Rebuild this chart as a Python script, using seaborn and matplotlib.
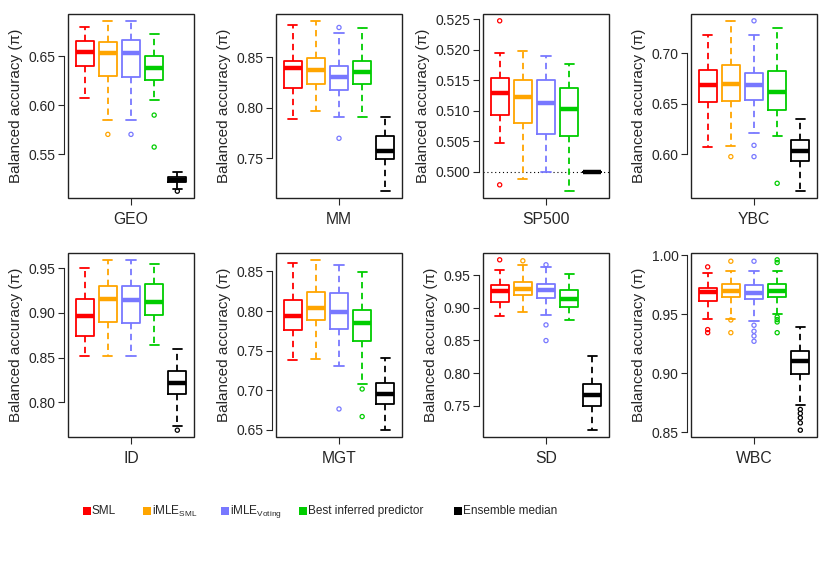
import numpy as np
import pandas as pd
import matplotlib
matplotlib.use("Agg")
import matplotlib.pyplot as plt
from matplotlib.patches import Rectangle
import seaborn as sns

methods = ["SML", "iMLE_SML", "iMLE_Voting", "Best", "Ensemble"]
legend_labels = ["SML", r"iMLE$_{\mathrm{SML}}$", r"iMLE$_{\mathrm{Voting}}$",
                 "Best inferred predictor", "Ensemble median"]
colors = ["#FF0000", "#FFA500", "#7878FF", "#00CD00", "#000000"]
datasets = ["GEO", "MM", "SP500", "YBC", "ID", "MGT", "SD", "WBC"]

# per method: whisker low, Q1, median, Q3, whisker high
geo_box = [[0.6071, 0.6399, 0.6537, 0.6655, 0.6797],
           [0.5848, 0.6294, 0.6527, 0.6645, 0.6858],
           [0.5848, 0.6291, 0.6534, 0.6659, 0.6858],
           [0.6054, 0.6257, 0.6375, 0.6500, 0.6726],
           [0.5152, 0.5220, 0.5243, 0.5267, 0.5318]]
geo_out = [[], [0.5703], [0.5703], [0.5899, 0.5574], [0.5125]]
geo_ticks = [0.55, 0.60, 0.65]

mm_box = [[0.7885, 0.8194, 0.8388, 0.8464, 0.8822],
          [0.7970, 0.8230, 0.8375, 0.8493, 0.8859],
          [0.7911, 0.8171, 0.8306, 0.8408, 0.8740],
          [0.7911, 0.8230, 0.8352, 0.8457, 0.8786],
          [0.7174, 0.7490, 0.7576, 0.7720, 0.7905]]
mm_out = [[], [], [0.8793, 0.7697], [], []]
mm_ticks = [0.75, 0.80, 0.85]

sp_box = [[0.50462, 0.50935, 0.51293, 0.51533, 0.51951],
          [0.49886, 0.50804, 0.51217, 0.51500, 0.51973],
          [0.50000, 0.50614, 0.51130, 0.51500, 0.51897],
          [0.49679, 0.50576, 0.51022, 0.51375, 0.51766],
          [0.50000, 0.50000, 0.50000, 0.50000, 0.50000]]
sp_out = [[0.52473, 0.49783], [], [], [], []]
sp_ticks = [0.500, 0.505, 0.510, 0.515, 0.520, 0.525]

ybc_box = [[0.6066, 0.6513, 0.6688, 0.6832, 0.7174],
           [0.6079, 0.6523, 0.6697, 0.6885, 0.7313],
           [0.6204, 0.6539, 0.6688, 0.6799, 0.7181],
           [0.6178, 0.6434, 0.6615, 0.6826, 0.7247],
           [0.5632, 0.5928, 0.6030, 0.6135, 0.6342]]
ybc_out = [[], [0.5974], [0.7319, 0.6086, 0.5974], [0.5710], []]
ybc_ticks = [0.60, 0.65, 0.70]

id_box = [[0.8515, 0.8746, 0.8959, 0.9153, 0.9507],
          [0.8515, 0.8892, 0.9153, 0.9295, 0.9593],
          [0.8515, 0.8884, 0.9138, 0.9295, 0.9593],
          [0.8638, 0.8974, 0.9123, 0.9325, 0.9541],
          [0.7735, 0.8097, 0.8216, 0.8347, 0.8593]]
id_out = [[], [], [], [], [0.7687]]
id_ticks = [0.80, 0.85, 0.90, 0.95]

mgt_box = [[0.7380, 0.7758, 0.7934, 0.8135, 0.8605],
           [0.7397, 0.7884, 0.8035, 0.8244, 0.8647],
           [0.7305, 0.7779, 0.7984, 0.8223, 0.8584],
           [0.7079, 0.7620, 0.7850, 0.8009, 0.8487],
           [0.6496, 0.6827, 0.6957, 0.7091, 0.7406]]
mgt_out = [[], [], [0.6764], [0.7016, 0.6668], []]
mgt_ticks = [0.65, 0.70, 0.75, 0.80, 0.85]

sd_box = [[0.8869, 0.9093, 0.9251, 0.9352, 0.9581],
          [0.8930, 0.9200, 0.9291, 0.9388, 0.9653],
          [0.8889, 0.9154, 0.9276, 0.9363, 0.9622],
          [0.8809, 0.9006, 0.9139, 0.9271, 0.9520],
          [0.7124, 0.7495, 0.7658, 0.7826, 0.8258]]
sd_out = [[0.9734], [0.9719], [0.9658, 0.8737, 0.8497], [], []]
sd_ticks = [0.75, 0.80, 0.85, 0.90, 0.95]

wbc_box = [[0.9460, 0.9610, 0.9690, 0.9727, 0.9846],
           [0.9463, 0.9644, 0.9701, 0.9761, 0.9868],
           [0.9446, 0.9627, 0.9684, 0.9752, 0.9868],
           [0.9500, 0.9644, 0.9701, 0.9755, 0.9868],
           [0.8727, 0.8996, 0.9100, 0.9188, 0.9395]]
wbc_out = [[0.9902, 0.9370, 0.9344], [0.9950, 0.9452, 0.9344],
           [0.9950, 0.9407, 0.9356, 0.9316, 0.9271],
           [0.9962, 0.9939, 0.9477, 0.9455, 0.9435, 0.9344],
           [0.8693, 0.8659, 0.8622, 0.8579, 0.8517]]
wbc_ticks = [0.85, 0.90, 0.95, 1.00]

panels = [(geo_box, geo_out, geo_ticks), (mm_box, mm_out, mm_ticks),
          (sp_box, sp_out, sp_ticks), (ybc_box, ybc_out, ybc_ticks),
          (id_box, id_out, id_ticks), (mgt_box, mgt_out, mgt_ticks),
          (sd_box, sd_out, sd_ticks), (wbc_box, wbc_out, wbc_ticks)]

sns.set_style("white")
plt.rcParams["font.family"] = ["Liberation Sans", "DejaVu Sans"]
plt.rcParams["mathtext.fontset"] = "custom"
plt.rcParams["mathtext.rm"] = "Liberation Sans"

W, H = 830, 571
fig = plt.figure(figsize=(W / 100, H / 100), dpi=100)
lefts = [68, 276, 483, 691]
tops = [14, 253]
aw, ah = 126, 184

for k, (name, (box, out, ticks)) in enumerate(zip(datasets, panels)):
    r, c = divmod(k, 4)
    ax = fig.add_axes([lefts[c] / W, (H - tops[r] - ah) / H, aw / W, ah / H])
    df = pd.DataFrame({"method": np.repeat(methods, 5),
                       "value": np.concatenate(box)})
    sns.boxplot(data=df, x="method", y="value", hue="method", order=methods,
                hue_order=methods, palette=colors, fill=False, whis=(0, 100),
                width=0.78, linewidth=1.3, showfliers=False, legend=False,
                medianprops={"linewidth": 3.2},
                whiskerprops={"linestyle": (0, (3.5, 2.5))}, ax=ax)
    for i, vals in enumerate(out):
        if vals:
            ax.scatter([i] * len(vals), vals, s=9, facecolors="none",
                       edgecolors=colors[i], linewidths=0.9, zorder=3)
    ax.axhline(0.5, color="black", ls=(0, (1, 2.5)), lw=0.8, zorder=1)

    allv = np.concatenate([np.concatenate(box)] + [np.array(v) for v in out if v])
    lo, hi = allv.min(), allv.max()
    pad = 0.04 * (hi - lo)
    ax.set_ylim(lo - pad, hi + pad)
    ax.set_xlim(-0.72, 4.72)

    ax.set_yticks(ticks)
    fmt = "{:.3f}" if name == "SP500" else "{:.2f}"
    ax.set_yticklabels([fmt.format(t) for t in ticks], fontsize=8)
    ax.set_xticks([2])
    ax.set_xticklabels([name], fontsize=11.3)
    ax.set_xlabel("")
    ax.set_ylabel("Balanced accuracy (π)", fontsize=11, labelpad=4)
    ax.tick_params(axis="y", length=4, width=0.8, pad=2, left=True)
    ax.tick_params(axis="x", length=5, width=0.8, pad=5, bottom=True)

    for s in ["top", "right", "bottom"]:
        ax.spines[s].set_visible(False)
    ax.spines["left"].set_position(("outward", 3))
    ax.spines["left"].set_bounds(ticks[0], ticks[-1])
    ax.spines["left"].set_linewidth(0.8)
    ax.add_patch(Rectangle((0, 0), 1, 1, transform=ax.transAxes, fill=False,
                           lw=1.0, ec="#222222", clip_on=False, zorder=5))

# legend row
leg_x = [83, 143, 221, 299, 454]
leg_y = H - 511
sq = 8
for x, col, lab in zip(leg_x, colors, legend_labels):
    fig.add_artist(Rectangle((x / W, (leg_y - sq / 2) / H), sq / W, sq / H,
                             transform=fig.transFigure, fc=col, ec="none"))
    fig.text((x + sq + 1) / W, leg_y / H, lab, fontsize=8.5, va="center", ha="left")

fig.savefig("out.png", dpi=100)
